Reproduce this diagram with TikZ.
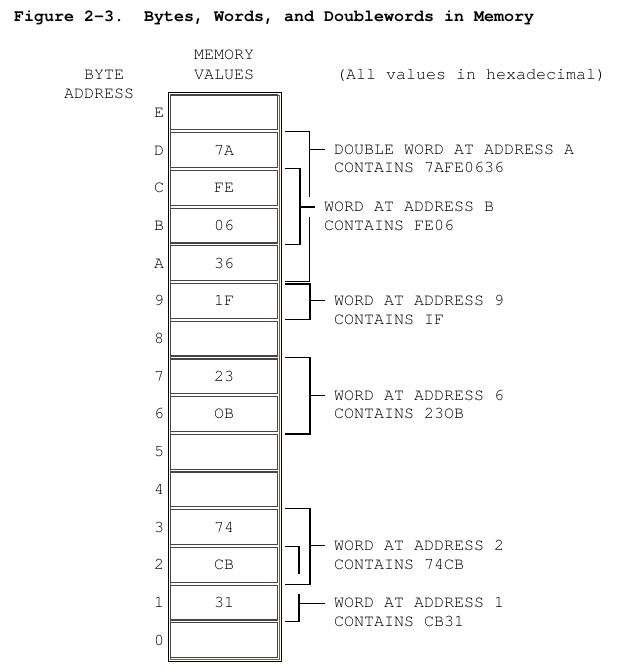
\documentclass[tikz,border=0pt]{standalone}
\usepackage{fontspec}
\setmonofont{TeX Gyre Cursor}
\definecolor{cellgray}{RGB}{70,70,70}
\definecolor{framebrown}{RGB}{150,85,40}
\begin{document}
\begin{tikzpicture}[x=1bp,y=-1bp,
  font=\ttfamily\fontsize{16.67bp}{18bp}\selectfont\frenchspacing,
  txt/.style={anchor=base west, inner sep=0pt, outer sep=0pt},
  lbl/.style={anchor=base, inner sep=0pt, outer sep=0pt},
  cellbox/.style={draw=cellgray, line width=1.2bp},
  brk/.style={draw=black, line width=1.2bp},
  framebox/.style={line width=0.9bp}]
\useasboundingbox (0,0) rectangle (618,671);
% title
\node[txt, font=\ttfamily\bfseries\fontsize{16.67bp}{18bp}\selectfont] (title) at (14,21.5) {Figure 2-3.\ \ Bytes, Words, and Doublewords in Memory};
% headers
\node[txt] (mem1) at (194,60) {MEMORY};
\node[txt] (mem2) at (194,79.5) {VALUES};
\node[txt] (byte) at (84,79.5) {BYTE};
\node[txt] (addr) at (64,98.5) {ADDRESS};
\node[txt] (note) at (336,79.5) {(All values in hexadecimal)};
% frame
\draw[framebox, black] (168,92.5) rectangle (281.3,661.5);
\draw[framebox, framebrown] (170.3,95) rectangle (279.3,659.5);
% cells
\foreach \i/\lab/\val in {14/E/,13/D/7A,12/C/FE,11/B/06,10/A/36,9/9/1F,8/8/,7/7/23,6/6/OB,5/5/,4/4/,3/3/74,2/2/CB,1/1/31,0/0/}{
  \pgfmathsetmacro\t{95+37.7*(14-\i)}
  \draw[cellbox] (170.3,\t) rectangle (277.7,\t+34.8);
  \node[lbl] (r\i) at (159,\t+22.3) {\lab};
  \node[lbl] (v\i) at (224,\t+22.3) {\val};
}
% double word at A
\draw[brk] (285,131.7) -- (309.5,131.7) -- (309.5,197);
\draw[brk] (309.5,216.5) -- (309.5,281.8) -- (285,281.8);
\draw[brk] (309.5,149.3) -- (324.5,149.3);
\node[txt] (dwa1) at (334,154) {DOUBLE WORD AT ADDRESS A};
\node[txt] (dwa2) at (334,172.5) {CONTAINS 7AFE0636};
% word at B
\draw[brk] (285,168.3) -- (300,168.3) -- (300,244.3) -- (285,244.3);
\draw[brk] (300,207) -- (314.5,207);
\node[txt] (wb1) at (324,211.5) {WORD AT ADDRESS B};
\node[txt] (wb2) at (324,230) {CONTAINS FE06};
% word at 9
\draw[brk] (285,283.9) -- (310,283.9) -- (310,319.5) -- (285,319.5);
\draw[brk] (310,300.7) -- (324.5,300.7);
\node[txt] (w91) at (334,305.5) {WORD AT ADDRESS 9};
\node[txt] (w92) at (334,324) {CONTAINS IF};
% word at 6
\draw[brk] (285,357.5) -- (310,357.5) -- (310,434) -- (285,434);
\draw[brk] (310,395.7) -- (324.5,395.7);
\node[txt] (w61) at (334,400.3) {WORD AT ADDRESS 6};
\node[txt] (w62) at (334,418.8) {CONTAINS 23OB};
% word at 2
\draw[brk] (285,508.3) -- (310,508.3) -- (310,584.5) -- (285,584.5);
\draw[brk] (310,545.7) -- (324.5,545.7);
\node[txt] (w21) at (334,550.5) {WORD AT ADDRESS 2};
\node[txt] (w22) at (334,569) {CONTAINS 74CB};
% word at 1
\draw[brk] (285,546.7) -- (299,546.7) -- (299,574);
\draw[brk] (299,594) -- (299,621.5) -- (285,621.5);
\draw[brk] (299,603.3) -- (324.5,603.3);
\node[txt] (w11) at (334,607.8) {WORD AT ADDRESS 1};
\node[txt] (w12) at (334,626.3) {CONTAINS CB31};
\end{tikzpicture}
\end{document}
